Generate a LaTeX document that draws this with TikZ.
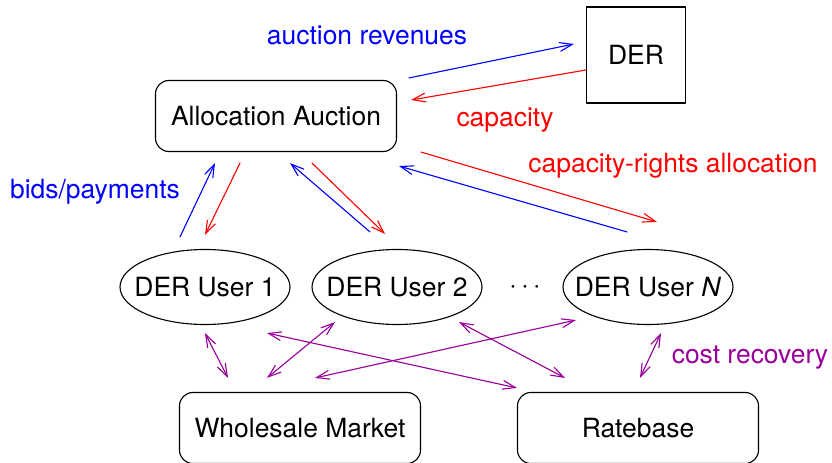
\documentclass[tikz,border=0pt]{standalone}
\usepackage{fontspec}
\setmainfont{TeX Gyre Heros}
\usepackage{xcolor}
\usetikzlibrary{calc,arrows.meta,shapes.geometric}
\definecolor{costpurple}{RGB}{153,0,153}
\begin{document}
\begin{tikzpicture}[x=0.45pt,y=-0.45pt,line join=round,line cap=round,
	font=\fontsize{11.9}{14}\selectfont,
	>={Straight Barb[length=5.8pt,width=4pt]},
	boxnode/.style={draw,line width=0.5pt,rounded corners=6pt,minimum width=241*0.45pt,minimum height=71*0.45pt,inner sep=0pt},
	usernode/.style={draw,line width=0.5pt,ellipse,minimum width=170*0.45pt,minimum height=75*0.45pt,inner xsep=-6.5pt,inner ysep=0pt},
	flow/.style={->,line width=0.5pt},
	link/.style={<->,line width=0.5pt,costpurple}]
\useasboundingbox (0,0) rectangle (832,463);
% nodes
\node[boxnode] (auc) at (276,116) {Allocation Auction};
\node[draw,line width=0.5pt,minimum width=99*0.45pt,minimum height=96*0.45pt,inner sep=0pt] (der) at (636,55) {DER};
\foreach \nom/\x/\txt in {u1/205/DER User 1, u2/397/DER User 2, uN/648/DER User \textit{N}}
	{\node[usernode] (\nom) at (\x,287) {\txt};}
\node (dots) at (525,288) {$\cdots$};
\node[boxnode] (wm) at (300,428) {Wholesale Market};
\node[boxnode] (rb) at (638,428) {Ratebase};
% auction <-> DER
\draw[flow,blue] ([shift={(12,-2)}]auc.north east) -- ([shift={(-12,-11)}]der.west);
\draw[flow,red] ([shift={(0,15)}]der.west) -- ([shift={(14,-16)}]auc.east);
% auction <-> users
\draw[flow,red] ([shift={(24,0)}]auc.south east) -- ([shift={(9,-27)}]uN.north);
\draw[flow,blue] ([shift={(-21,-17)}]uN.north) -- ([shift={(2,14)}]auc.south east);
\draw[flow,blue] ([shift={(-25,-12)}]u1.north) -- ([shift={(-61,11)}]auc.south);
\draw[flow,red] ([shift={(-36,11)}]auc.south) -- ([shift={(0,-14)}]u1.north);
\draw[flow,blue] ([shift={(-27,-17)}]u2.north) -- ([shift={(14,11)}]auc.south);
\draw[flow,red] ([shift={(36,11)}]auc.south) -- ([shift={(-12,-15)}]u2.north);
% users <-> market / ratebase
\draw[link] ([shift={(0,8)}]u1.south) -- ([shift={(-72,-14)}]wm.north);
\draw[link] ([shift={(-62,-3)}]u2.south) -- ([shift={(-33,-14)}]wm.north);
\draw[link] ([shift={(-72,-5)}]uN.south) -- ([shift={(15,-14)}]wm.north);
\draw[link] ([shift={(62,8)}]u1.south) -- ([shift={(0,-4)}]rb.north west);
\draw[link] ([shift={(62,-3)}]u2.south) -- ([shift={(-73,-14)}]rb.north);
\draw[link] ([shift={(13,8)}]uN.south) -- ([shift={(2,-14)}]rb.north);
% labels
\node[blue] (lrev) at (367,35) {auction revenues};
\node[red] (lcap) at (505,120) {capacity};
\node[red] (lalloc) at (673,166) {capacity-rights allocation};
\node[blue] (lbids) at (95,192) {bids/payments};
\node[costpurple] (lcost) at (750,358) {cost recovery};
\end{tikzpicture}
\end{document}
